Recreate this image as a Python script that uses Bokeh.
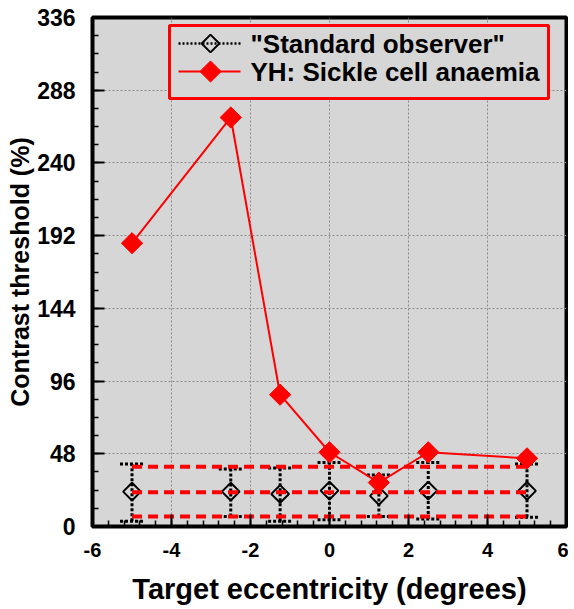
import numpy as np
from bokeh.plotting import figure
from bokeh.models import FixedTicker, SingleIntervalTicker, Range1d
from bokeh.core.properties import value
from bokeh.embed import file_html
from bokeh.resources import INLINE

# ---- data ----
eccentricity = [-5, -2.5, -1.25, 0, 1.25, 2.5, 5]
std_mean = [23, 23, 21.5, 23.7, 20.2, 23.7, 23.5]
std_upper = [41.2, 38.0, 38.6, 42.3, 34.0, 42.3, 41.2]
std_lower = [3.5, 6.6, 3.5, 4.4, 6.6, 5.0, 6.1]
yh_threshold = [187, 270, 87, 49, 29, 49, 45]
norm_span = [-5, 5]
norm_levels = [39.5, 22.6, 6.6]   # upper limit, mean, lower limit
x_ticks = [-6, -4, -2, 0, 2, 4, 6]
x_tick_labels = ["-6", "-4", "-2", "0", "2", "4", "6"]
y_ticks = [0, 48, 96, 144, 192, 240, 288, 336]
labels = ['"Standard observer"', "YH: Sickle cell anaemia"]

FONT = "Liberation Sans"
BG = "#d6d6d6"
RED = "#ff0000"

X0, X1, Y0, Y1 = -6, 6, 0, 336
W, H = 568, 608
BL, BR, BT, BB = 92, 2, 17, 82
FW, FH = W - BL - BR, H - BT - BB   # frame size in px

p = figure(width=W, height=H, output_backend="svg", toolbar_location=None,
           x_range=Range1d(X0, X1), y_range=Range1d(Y0, Y1),
           min_border_left=BL, min_border_right=BR, min_border_top=BT, min_border_bottom=BB)

p.background_fill_color = BG
p.border_fill_color = "white"
p.outline_line_color = "black"
p.outline_line_width = 4

# axes
p.xaxis.ticker = SingleIntervalTicker(interval=2, num_minor_ticks=5)
p.xaxis.major_label_overrides = dict(zip(x_ticks, x_tick_labels))
p.yaxis.ticker = FixedTicker(ticks=y_ticks, minor_ticks=list(np.arange(0, 337, 12)))
for ax in (p.xaxis, p.yaxis):
    ax.axis_line_color = None
    ax.major_tick_in = 12
    ax.major_tick_out = 0
    ax.minor_tick_in = 6
    ax.minor_tick_out = 0
    ax.major_tick_line_width = 2
    ax.minor_tick_line_width = 1.5
    ax.major_tick_line_color = "black"
    ax.minor_tick_line_color = "black"
    ax.major_label_text_font = FONT
    ax.major_label_text_font_style = "bold"
    ax.major_label_text_color = "black"
    ax.axis_label_text_font = FONT
    ax.axis_label_text_font_style = "bold"
    ax.axis_label_text_color = "black"
p.xaxis.major_label_text_font_size = "20px"
p.yaxis.major_label_text_font_size = "23px"
p.xaxis.major_label_standoff = 16
p.yaxis.major_label_standoff = 17
p.xaxis.axis_label = "Target eccentricity (degrees)"
p.yaxis.axis_label = "Contrast threshold (%)"
p.xaxis.axis_label_text_font_size = "29px"
p.yaxis.axis_label_text_font_size = "25px"
p.xaxis.axis_label_standoff = 13
p.yaxis.axis_label_standoff = 0

p.grid.grid_line_color = "#8a8a8a"
p.grid.grid_line_dash = "2 2"
p.grid.grid_line_width = 1

# standard observer: error bars + hollow diamonds
p.segment(x0=eccentricity, y0=std_lower, x1=eccentricity, y1=std_upper,
          line_color="black", line_width=3, line_dash="3 2")
p.scatter(x=eccentricity, y=std_upper, marker="dash", size=24,
          line_color="black", line_width=3, line_dash="3 2")
p.scatter(x=eccentricity, y=std_lower, marker="dash", size=24,
          line_color="black", line_width=3, line_dash="3 2")
std_style = dict(marker="square", angle=np.pi / 4, size=12.5, fill_color=None,
                 line_color="black", line_width=2)
p.scatter(x=eccentricity, y=std_mean, **std_style)

# normal range (red dashed)
p.multi_line(xs=[norm_span for _ in norm_levels], ys=[[v, v] for v in norm_levels],
             line_color=RED, line_width=4, line_dash="10 6")

# YH data
yh_style = dict(marker="square", angle=np.pi / 4, size=15, fill_color=RED, line_color=RED)
p.line(x=eccentricity, y=yh_threshold, line_color=RED, line_width=2)
p.scatter(x=eccentricity, y=yh_threshold, **yh_style)

# ---- legend, laid out in pixels from the frame's bottom-left corner ----
def dx(px):
    return X0 + px / FW * (X1 - X0)

def dy(py):
    return Y0 + py / FH * (Y1 - Y0)

BOX_L, BOX_R, BOX_B, BOX_T = 77, 456, 428, 501
ROW_PY = [483, 455]
KEY_L, KEY_R, KEY_C, TEXT_PX = 86, 148, 118, 158

p.quad(left=[dx(BOX_L)], right=[dx(BOX_R)], bottom=[dy(BOX_B)], top=[dy(BOX_T)],
       fill_color=BG, line_color=RED, line_width=3)
p.line(x=[dx(KEY_L), dx(KEY_R)], y=[dy(ROW_PY[0])] * 2, line_color="black",
       line_width=2.5, line_dash="2 2")
p.line(x=[dx(KEY_L), dx(KEY_R)], y=[dy(ROW_PY[1])] * 2, line_color=RED, line_width=2)
p.scatter(x=[dx(KEY_C)], y=[dy(ROW_PY[0])], **std_style)
p.scatter(x=[dx(KEY_C)], y=[dy(ROW_PY[1])], **yh_style)
p.text(x=[dx(TEXT_PX)] * 2, y=[dy(v) for v in ROW_PY], text=labels,
       text_font=value(FONT), text_font_style="bold", text_font_size=value("26px"),
       text_color="black", text_baseline="middle", text_align="left")

open("out.html", "w").write(file_html(p, INLINE))
